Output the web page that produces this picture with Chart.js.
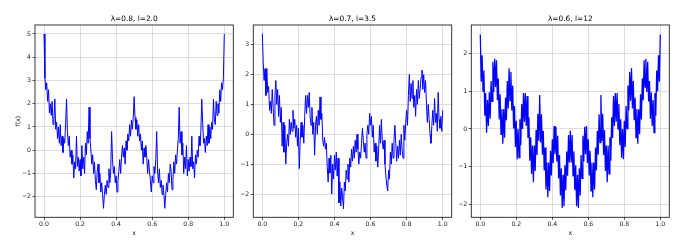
<!DOCTYPE html>
<html><head><meta charset="utf-8">
<script src="https://cdn.jsdelivr.net/npm/chart.js@4/dist/chart.umd.min.js"></script>
<style>
html,body{margin:0;padding:0;background:#fff;width:682px;height:243px;overflow:hidden}
canvas{position:absolute;top:0}
</style></head><body>
<canvas id="c1" width="235" height="243" style="left:0px;width:235px;height:243px"></canvas>
<canvas id="c2" width="220" height="243" style="left:235px;width:220px;height:243px"></canvas>
<canvas id="c3" width="220" height="243" style="left:455px;width:220px;height:243px"></canvas>
<script>
const xs = [0,0.005,0.01,0.015,0.02,0.025,0.03,0.035,0.04,0.045,
0.05,0.055,0.06,0.065,0.07,0.075,0.08,0.085,0.09,0.095,
0.1,0.105,0.11,0.115,0.12,0.125,0.13,0.135,0.14,0.145,
0.15,0.155,0.16,0.165,0.17,0.175,0.18,0.185,0.19,0.195,
0.2,0.205,0.21,0.215,0.22,0.225,0.23,0.235,0.24,0.245,
0.25,0.255,0.26,0.265,0.27,0.275,0.28,0.285,0.29,0.295,
0.3,0.305,0.31,0.315,0.32,0.325,0.33,0.335,0.34,0.345,
0.35,0.355,0.36,0.365,0.37,0.375,0.38,0.385,0.39,0.395,
0.4,0.405,0.41,0.415,0.42,0.425,0.43,0.435,0.44,0.445,
0.45,0.455,0.46,0.465,0.47,0.475,0.48,0.485,0.49,0.495,
0.5,0.505,0.51,0.515,0.52,0.525,0.53,0.535,0.54,0.545,
0.55,0.555,0.56,0.565,0.57,0.575,0.58,0.585,0.59,0.595,
0.6,0.605,0.61,0.615,0.62,0.625,0.63,0.635,0.64,0.645,
0.65,0.655,0.66,0.665,0.67,0.675,0.68,0.685,0.69,0.695,
0.7,0.705,0.71,0.715,0.72,0.725,0.73,0.735,0.74,0.745,
0.75,0.755,0.76,0.765,0.77,0.775,0.78,0.785,0.79,0.795,
0.8,0.805,0.81,0.815,0.82,0.825,0.83,0.835,0.84,0.845,
0.85,0.855,0.86,0.865,0.87,0.875,0.88,0.885,0.89,0.895,
0.9,0.905,0.91,0.915,0.92,0.925,0.93,0.935,0.94,0.945,
0.95,0.955,0.96,0.965,0.97,0.975,0.98,0.985,0.99,0.995,1.0];

const f1 = [5.0,3.1,2.6,2.9,2.1,2.6,1.6,2.0,1.5,2.1,
1.1,1.3,2.2,0.9,1.2,0.5,1.0,0.3,1.1,0.2,
0.6,-0.1,0.5,0.3,1.2,2.2,0.8,0.2,0.6,-0.3,
0.0,-0.6,-0.2,-1.2,-0.5,-0.8,0.6,-0.7,-0.3,-0.9,
-0.4,-1.1,0.2,-0.8,-0.3,-1.0,0.3,-0.2,0.8,0.3,
1.85,0.5,0.0,-0.6,-0.2,-1.0,-0.5,-1.3,-1.7,-0.9,
-0.6,-1.4,-1.0,-1.8,-1.4,-1.9,-2.5,-1.9,-1.5,-1.9,
-1.3,-1.6,-0.8,-1.4,-0.9,0.8,-0.4,-1.0,-0.7,-1.4,
-1.1,-1.8,-1.3,-0.9,-0.4,-1.0,-0.3,0.2,-0.3,0.1,
-0.6,0.4,0.0,0.7,0.4,1.1,0.6,1.3,0.9,1.4,
2.3,
1.4,0.9,1.3,0.6,1.1,0.4,0.7,0.0,0.4,-0.6,
0.1,-0.3,0.2,-0.3,-1.0,-0.4,-0.9,-1.3,-1.8,-1.1,
-1.4,-0.7,-1.0,-0.4,0.8,-0.9,-1.4,-0.8,-1.6,-1.3,
-1.9,-1.5,-1.9,-2.5,-1.9,-1.4,-1.8,-1.0,-1.4,-0.6,
-0.9,-1.7,-1.3,-0.5,-1.0,-0.2,-0.6,0.0,0.5,1.85,
0.3,0.8,-0.2,0.3,-1.0,-0.3,-0.8,0.2,-1.1,-0.4,
-0.9,-0.3,-0.7,0.6,-0.8,-0.5,-1.2,-0.2,-0.6,0.0,
-0.3,0.6,0.2,0.8,2.2,1.2,0.3,0.5,-0.1,0.6,
0.2,1.1,0.3,1.0,0.5,1.2,0.9,2.2,1.3,1.1,
2.1,1.5,2.0,1.6,2.6,2.1,2.9,2.6,3.1,5.0];

const f2 = [3.37,2.4,1.8,2.2,1.3,2.2,1.4,1.6,0.8,1.1,
0.7,1.5,0.9,0.3,1.3,1.8,1.0,1.5,0.6,1.3,
0.4,0.9,-0.4,0.4,-0.6,0.3,-1.0,-0.3,0.0,-0.4,
0.5,0.0,0.4,0.1,0.8,0.2,0.5,-0.1,0.3,-0.4,
0.2,-1.15,-0.2,0.4,-0.1,0.3,-0.3,0.6,1.3,0.7,
1.3,0.9,1.4,0.6,0.3,0.9,0.0,0.4,-0.7,0.3,
0.6,0.0,0.8,0.3,1.25,0.5,0.7,-0.2,-0.4,-0.1,
-0.5,-0.3,-1.1,-1.6,-0.8,-1.3,-0.7,-2.0,-1.0,-1.5,
-0.7,-1.2,-0.6,-1.4,-0.8,-2.3,-1.6,-2.4,-1.8,-2.1,
-2.5,-1.6,-1.9,-1.2,-1.5,-1.0,-1.6,-0.8,-1.1,-0.5,
-0.9,-0.4,-0.8,-0.2,-0.6,0.0,-0.5,-1.0,-0.6,-0.8,
-0.3,0.2,-0.2,-0.6,-0.3,-0.8,0.0,0.3,0.0,0.7,
0.3,0.6,-0.1,0.3,-0.6,-0.3,-0.9,-0.4,-1.1,-0.5,
0.3,-0.3,0.5,-0.2,-0.5,-0.2,-1.0,-1.4,-1.7,-1.9,
-1.2,-1.5,-0.6,-1.0,-0.3,-0.8,-0.2,0.3,-0.3,-0.9,
-0.4,-0.8,-0.2,-0.7,0.0,-0.5,-0.8,0.3,-0.2,0.4,
0.8,0.3,1.3,2.0,1.1,1.7,1.2,1.8,0.9,1.3,
0.6,1.5,1.0,1.8,1.2,1.5,1.9,2.15,1.5,2.0,
1.4,1.8,1.0,0.4,1.0,0.5,0.0,-0.3,0.3,0.8,
0.3,1.2,0.4,0.7,0.1,1.4,0.5,0.2,0.6,0.1,
0.8];

const f3 = [2.5,1.25,1.95,1.0,1.55,0.35,0.95,-0.1,0.77,0.08,
0.97,0.27,1.27,0.73,1.78,0.98,1.86,1.11,1.82,0.76,
1.34,0.25,0.92,-0.14,0.52,-0.39,0.53,-0.23,0.83,0.23,
1.27,0.54,1.61,0.75,1.51,0.49,1.15,0.01,0.61,-0.48,
0.22,-0.80,0.0,-0.76,0.26,-0.43,0.66,0.0,0.95,0.19,
0.95,0.08,0.87,-0.24,0.31,-0.84,-0.22,-1.19,-0.44,-1.41,
-0.44,-1.11,-0.03,-0.69,0.40,-0.32,0.9,-0.36,0.39,-0.68,
-0.05,-1.10,-0.49,-1.60,-0.89,-1.81,-0.89,-1.64,-0.58,-1.23,
-0.27,-0.90,0.08,-0.67,0.06,-0.86,-0.18,-1.31,-0.69,-1.76,
-1.04,-2.09,-1.21,-2.05,-0.96,-1.62,-0.60,-1.24,-0.16,-0.89,
-0.05,
-0.89,-0.16,-1.24,-0.60,-1.62,-0.96,-2.05,-1.21,-2.09,-1.04,
-1.76,-0.69,-1.31,-0.18,-0.86,0.06,-0.67,0.08,-0.90,-0.27,
-1.23,-0.58,-1.64,-0.89,-1.81,-0.89,-1.60,-0.49,-1.10,-0.05,
-0.68,0.39,-0.36,0.9,-0.32,0.40,-0.69,-0.03,-1.11,-0.44,
-1.41,-0.44,-1.19,-0.22,-0.84,0.31,-0.24,0.87,0.08,0.95,
0.19,0.95,0.0,0.66,-0.43,0.26,-0.76,0.0,-0.80,0.22,
-0.48,0.61,0.01,1.15,0.49,1.51,0.75,1.61,0.54,1.27,
0.23,0.83,-0.23,0.53,-0.39,0.52,-0.14,0.92,0.25,1.34,
0.76,1.82,1.11,1.86,0.98,1.78,0.73,1.27,0.27,0.97,
0.08,0.77,-0.1,0.95,0.35,1.55,1.0,1.95,1.25,2.5];

const titles = ['\u03bb=0.8, l=2.0', '\u03bb=0.7, l=3.5', '\u03bb=0.6, l=12'];
const xTicks = [0.0, 0.2, 0.4, 0.6, 0.8, 1.0];
const yTicks1 = [-2, -1, 0, 1, 2, 3, 4, 5];
const yTicks2 = [-2, -1, 0, 1, 2, 3];
const yTicks3 = [-2, -1, 0, 1, 2];
const xLabel = 'x';
const yLabel = 'f(x)';

const FONT = 'DejaVu Sans';
const frame = {
  id: 'frame',
  afterDraw(chart) {
    const {ctx, chartArea: a} = chart;
    ctx.save();
    ctx.strokeStyle = '#222';
    ctx.lineWidth = 0.9;
    ctx.strokeRect(a.left, a.top, a.right - a.left, a.bottom - a.top);
    ctx.restore();
  }
};

function fmtY(v) { return v < 0 ? '\u2212' + Math.abs(v) : String(v); }

function makeChart(id, ys, yTicks, yMin, yMax, title, yAxisW, padRight, showY, lw) {
  const pts = xs.map((x, i) => ({x: x, y: ys[i]}));
  new Chart(document.getElementById(id), {
    type: 'line',
    data: { datasets: [{ data: pts, borderColor: '#0000ff', borderWidth: lw,
      pointRadius: 0, tension: 0, fill: false }] },
    options: {
      responsive: false, animation: false, devicePixelRatio: 1,
      layout: { padding: { left: 0, right: padRight, top: 0, bottom: 0 } },
      plugins: {
        legend: { display: false }, tooltip: { enabled: false },
        title: { display: true, text: title, fullSize: false, color: '#000',
          font: { family: FONT, size: 7.4, weight: 'normal' },
          padding: { top: 14.5, bottom: 1.6 } }
      },
      scales: {
        x: {
          type: 'linear', min: -0.05, max: 1.05,
          afterBuildTicks: s => { s.ticks = xTicks.map(v => ({value: v})); },
          afterFit: s => { s.height = 25.7; },
          grid: { color: '#d4d4d4', lineWidth: 0.8, drawTicks: true, tickLength: 2.5, tickColor: '#222', tickWidth: 0.8 },
          border: { display: false },
          ticks: { autoSkip: false, maxRotation: 0, padding: 0.5, color: '#222',
            font: { family: FONT, size: 6.2 }, callback: v => Number(v).toFixed(1) },
          title: { display: true, text: xLabel, color: '#222', font: { family: FONT, size: 6.2 },
            padding: { top: 0, bottom: 6 } }
        },
        y: {
          type: 'linear', min: yMin, max: yMax,
          afterBuildTicks: s => { s.ticks = yTicks.map(v => ({value: v})); },
          afterFit: s => { s.width = yAxisW; },
          grid: { color: '#d4d4d4', lineWidth: 0.8, drawTicks: true, tickLength: 2.5, tickColor: '#222', tickWidth: 0.8 },
          border: { display: false },
          ticks: { autoSkip: false, padding: 1.5, color: '#222',
            font: { family: FONT, size: 6.2 }, callback: v => fmtY(v) },
          title: { display: showY, text: yLabel, color: '#222', font: { family: FONT, size: 6.2 },
            padding: { top: 14.6, bottom: 0 } }
        }
      }
    },
    plugins: [frame]
  });
}

makeChart('c1', f1, yTicks1, -2.886, 5.387, titles[0], 35, 1.7, true, 1.0);
makeChart('c2', f2, yTicks2, -2.78, 3.66, titles[1], 18.3, 3.3, false, 1.0);
makeChart('c3', f3, yTicks3, -2.34, 2.755, titles[2], 16.3, 5.7, false, 1.25);
</script>
</body></html>
